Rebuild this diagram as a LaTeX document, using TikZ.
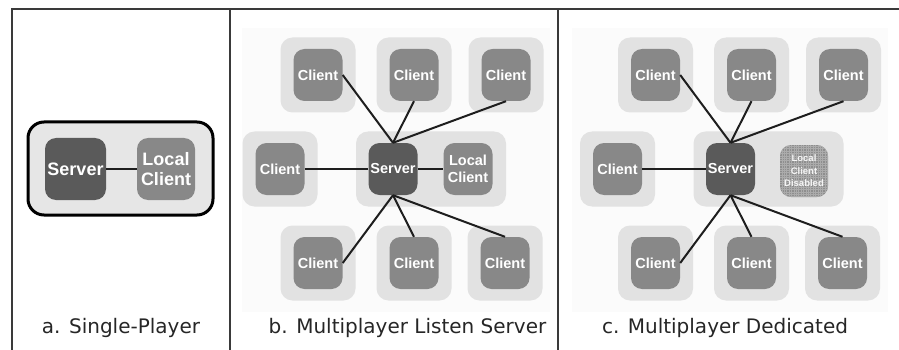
\documentclass[tikz,border=0pt]{standalone}
\usepackage{fontspec}
\newfontfamily\boxfont{Liberation Sans}
\newfontfamily\capfont{DejaVu Sans}

\definecolor{serverfill}{HTML}{5A5A5A}
\definecolor{clientfill}{HTML}{888888}
\definecolor{padfill}{HTML}{E2E2E2}
\definecolor{panelfill}{HTML}{FBFBFB}
\definecolor{framecol}{HTML}{3A3A3A}
\definecolor{linkcol}{HTML}{1E1E1E}
\definecolor{offfill}{HTML}{8E8E8E}
\definecolor{offgrid}{HTML}{ABABAB}
\definecolor{singlefill}{HTML}{E6E6E6}

\tikzset{
  pad/.style={fill=padfill, rounded corners=12pt, minimum width=75pt,
    minimum height=75pt, inner sep=0pt},
  clientbox/.style={fill=clientfill, rounded corners=11pt, minimum width=49pt,
    minimum height=52pt, inner sep=0pt, text=white, align=center,
    font=\boxfont\bfseries\fontsize{14.5}{16.5}\selectfont},
  serverbox/.style={clientbox, fill=serverfill},
  offbox/.style={clientbox, fill=offfill, text=white!92!gray,
    font=\boxfont\bfseries\fontsize{9.5}{12.5}\selectfont,
    path picture={\draw[offgrid, line width=0.35pt]
      (path picture bounding box.south west) grid[step=2.4pt]
      (path picture bounding box.north east);}},
  link/.style={draw=linkcol, line width=2pt},
  caption/.style={font=\capfont\fontsize{20}{24}\selectfont, text=black!85,
    anchor=base},
  frame/.style={draw=framecol, line width=1.5pt}
}

% One star network: #1 = name prefix, #2 = x of the server centre
\newcommand\clusterpanel[2]{%
  \foreach \dx/\k in {-75/1,21/2,113/3}{
    \node[pad] (#1tp\k) at (#2+\dx,75) {};
    \node[clientbox] (#1t\k) at (#2+\dx,75) {Client};
  }
  \foreach \dx/\k in {-75/1,21/2,112/3}{
    \node[pad] (#1bp\k) at (#2+\dx,263) {};
    \node[clientbox] (#1b\k) at (#2+\dx,263) {Client};
  }
  \node[pad] (#1mlp) at (#2-113,169) {};
  \node[clientbox] (#1ml) at (#2-113,169) {Client};
  \node[pad, minimum width=150pt] (#1sp) at (#2+38,169) {};
  \node[serverbox] (#1srv) at (#2,169) {Server};
}

\newcommand\clusterlinks[1]{%
  \draw[link] (#1t1.east) -- (#1srv.north);
  \draw[link] (#1t2.south) -- (#1srv.north);
  \draw[link] (#1t3.south) -- (#1srv.north);
  \draw[link] (#1ml.east) -- (#1srv.west);
  \draw[link] (#1b1.east) -- (#1srv.south);
  \draw[link] (#1b2.north) -- (#1srv.south);
  \draw[link] (#1b3.north) -- (#1srv.south);
}

\begin{document}
\begin{tikzpicture}[x=1pt,y=-1pt]
  \useasboundingbox (0,0) rectangle (899,350);

  % faint backgrounds of the two network panels
  \fill[panelfill] (242,28) rectangle (550,312);
  \fill[panelfill] (572,28) rectangle (888,312);

  % a. single player
  \node[draw=black, line width=3pt, fill=singlefill, rounded corners=16pt,
    minimum width=185pt, minimum height=93pt, inner sep=0pt] (abox) at (120.5,168.5) {};
  \node[serverbox, minimum width=61pt, minimum height=62pt,
    font=\boxfont\bfseries\fontsize{18}{20}\selectfont] (asrv) at (75.5,169) {Server};
  \node[clientbox, minimum width=58pt, minimum height=62pt,
    font=\boxfont\bfseries\fontsize{18}{20}\selectfont] (aloc) at (166,169) {Local\\Client};
  \draw[link, line width=1.7pt] (asrv.east) -- (aloc.west);

  % b. listen server
  \clusterpanel{b}{393}
  \node[clientbox] (bloc) at (468,169) {Local\\Client};
  \clusterlinks{b}
  \draw[link] (bsrv.east) -- (bloc.west);

  % c. dedicated server
  \clusterpanel{c}{730.5}
  \node[offbox, minimum width=48pt] (coff) at (804,171) {Local\\Client\\Disabled};
  \clusterlinks{c}

  % captions
  \node[caption] (acap) at (121,333) {a. Single-Player};
  \node[caption] (bcap) at (407.5,333) {b. Multiplayer Listen Server};
  \node[caption] (ccap) at (725,333) {c. Multiplayer Dedicated};

  % panel frame
  \draw[frame] (12,350) -- (12,9) -- (899,9);
  \draw[frame] (230,9) -- (230,350);
  \draw[frame] (558,9) -- (558,350);
\end{tikzpicture}
\end{document}
